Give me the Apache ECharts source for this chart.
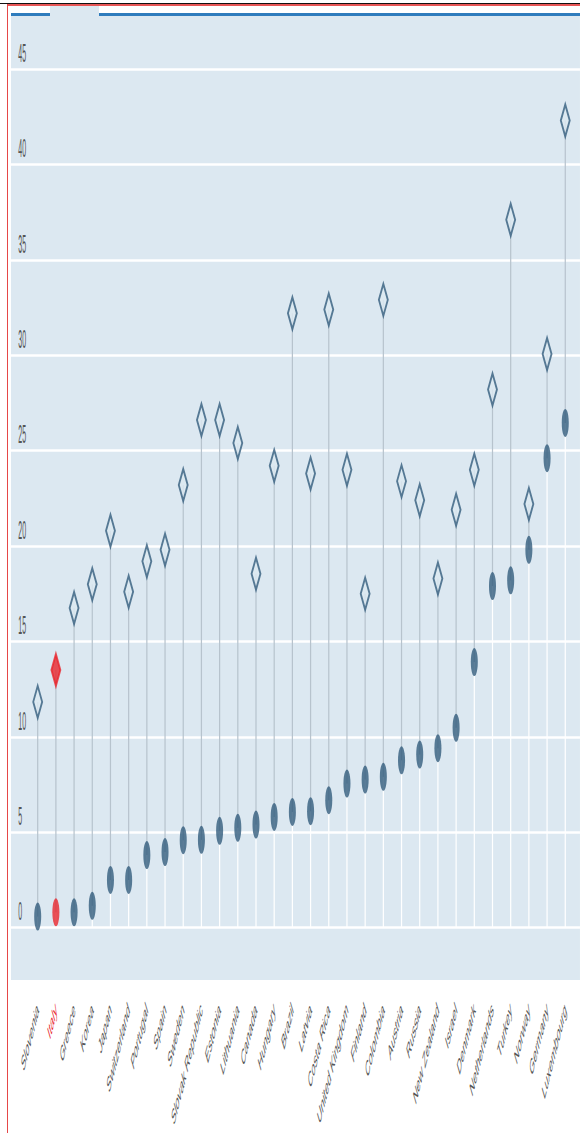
<!DOCTYPE html>
<html>
<head>
<meta charset="utf-8">
<script src="https://cdn.jsdelivr.net/npm/echarts@6/dist/echarts.min.js"></script>
<style>
html,body{margin:0;padding:0;width:580px;height:1133px;overflow:hidden;background:#fff;}
#chart{position:absolute;left:0;top:0;width:2148px;height:1133px;transform:scaleX(0.27);transform-origin:0 0;}
.deco{position:absolute;}
</style>
</head>
<body>
<div id="chart"></div>
<div class="deco" style="left:0;top:3px;width:580px;height:1px;background:#111;"></div>
<div class="deco" style="left:7px;top:4px;width:573px;height:1.5px;background:#e85555;"></div>
<div class="deco" style="left:7px;top:4px;width:1.2px;height:1129px;background:#e64848;"></div>
<div class="deco" style="left:50px;top:6px;width:49px;height:10px;background:#dce8f1;"></div>
<div class="deco" style="left:11px;top:13px;width:39px;height:3px;background:#2f7cbd;"></div>
<div class="deco" style="left:99px;top:13px;width:481px;height:3px;background:#2f7cbd;"></div>
<script>
// ---- data ----
const categories = ["Slovenia","Italy","Greece","Korea","Japan","Switzerland","Portugal","Spain","Sweden","Slovak Republic","Estonia","Lithuania","Canada","Hungary","Brazil","Latvia","Costa Rica","United Kingdom","Finland","Colombia","Austria","Russia","New Zealand","Israel","Denmark","Netherlands","Turkey","Norway","Germany","Luxembourg"];
const lowValues  = [0.58,0.8,0.8,1.14,2.5,2.5,3.8,3.96,4.58,4.6,5.07,5.23,5.4,5.8,6.06,6.1,6.68,7.55,7.76,7.9,8.77,9.07,9.4,10.47,13.92,17.9,18.2,19.8,24.6,26.45];
const highValues = [11.83,13.5,16.75,18.0,20.8,17.6,19.2,19.8,23.2,26.6,26.6,25.4,18.55,24.2,32.2,23.8,32.4,24.0,17.5,32.9,23.4,22.4,18.3,21.9,24.0,28.2,37.1,22.2,30.06,42.3];
const highlighted = ["Italy"];
const yMin = 0, yMax = 45, yStep = 5;

// ---- styles ----
const SX = 0.27; // horizontal compression of the reference picture
const bg = '#dce8f1';
const navy = '#335d7d';
const red = '#e8262d';
const isHi = i => highlighted.indexOf(categories[i]) >= 0;

const chart = echarts.init(document.getElementById('chart'), null, {renderer:'svg'});
const gap = highValues.map((v,i) => +(v - lowValues[i]).toFixed(2));

const option = {
  animation:false,
  grid:[
    {left:11/SX, right:0, top:16, bottom:1133-980, show:true, backgroundColor:bg, borderWidth:0, outerBoundsMode:'none'},
    {left:11/SX, right:0, top:69, bottom:1133-927.6, outerBoundsMode:'none'},
    {left:28.6/SX, right:5.6/SX, top:69, bottom:1133-927.6, outerBoundsMode:'none'}
  ],
  xAxis:[
    {gridIndex:0, type:'value', show:false},
    {gridIndex:1, type:'value', show:false},
    {gridIndex:2, type:'category', data:categories, boundaryGap:true,
     axisLine:{show:false}, axisTick:{show:false},
     axisLabel:{interval:0, rotate:47, margin:78, fontFamily:'Liberation Sans, Arial, sans-serif', fontSize:22,
       color:(v,i)=> highlighted.indexOf(v)>=0 ? red : '#555'}}
  ],
  yAxis:[
    {gridIndex:0, type:'value', show:false},
    {gridIndex:1, type:'value', min:yMin, max:yMax, interval:yStep,
     axisLine:{show:false}, axisTick:{show:false},
     splitLine:{show:true, lineStyle:{color:'#ffffff', width:2.5}},
     axisLabel:{inside:true, margin:27, align:'left', verticalAlign:'bottom', lineHeight:32,
       fontFamily:'Liberation Sans, Arial, sans-serif', fontSize:26, color:'#555'}},
    {gridIndex:2, type:'value', min:yMin, max:yMax, show:false, splitLine:{show:false}}
  ],
  series:[
    {type:'bar', xAxisIndex:2, yAxisIndex:2, stack:'stem', barWidth:4.5, data:lowValues,
     itemStyle:{color:'#ffffff'}, silent:true},
    {type:'bar', xAxisIndex:2, yAxisIndex:2, stack:'stem', barWidth:3.8, data:gap,
     itemStyle:{color:'#b7c3cd'}, silent:true},
    {type:'scatter', xAxisIndex:2, yAxisIndex:2, symbol:'diamond', symbolSize:[33,32], z:5,
     data:highValues.map((v,i)=> isHi(i) ? {value:v, itemStyle:{color:red, borderColor:red}} : v),
     itemStyle:{color:bg, borderColor:navy, borderWidth:5}},
    {type:'scatter', xAxisIndex:2, yAxisIndex:2, symbol:'circle', symbolSize:[26,28], z:6,
     data:lowValues.map((v,i)=> isHi(i) ? {value:v, itemStyle:{color:red}} : v),
     itemStyle:{color:navy}}
  ]
};
chart.setOption(option);
</script>
</body>
</html>
